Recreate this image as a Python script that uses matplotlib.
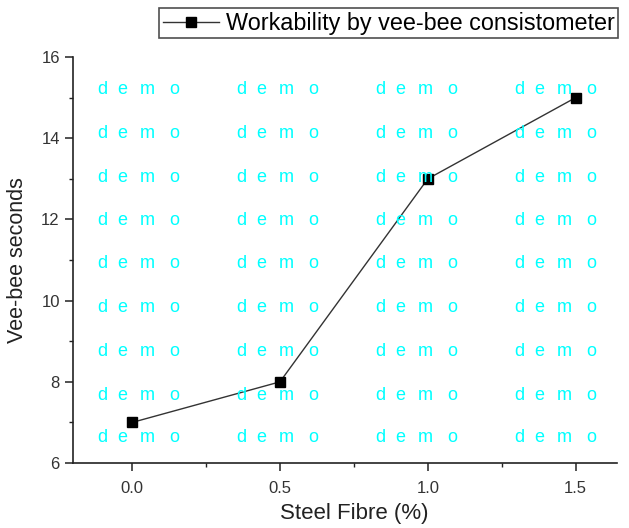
import matplotlib.pyplot as plt
from matplotlib.ticker import MultipleLocator

# Vee-bee workability vs steel fibre content
fibre = [0.0, 0.5, 1.0, 1.5]
vee_bee = [7, 8, 13, 15]

plt.rcParams['font.family'] = ['Liberation Sans', 'DejaVu Sans']

fig = plt.figure(figsize=(6.29, 5.28), dpi=100)
ax = fig.add_axes([0.116, 0.123, 0.865, 0.769])

ax.plot(fibre, vee_bee, color='#333333', lw=1.0, marker='s', markersize=7,
        markerfacecolor='black', markeredgecolor='black',
        label='Workability by vee-bee consistometer', zorder=3)

ax.set_xlim(-0.2, 1.64)
ax.set_ylim(6, 16)
ax.xaxis.set_minor_locator(MultipleLocator(0.25))
ax.yaxis.set_major_locator(MultipleLocator(2))
ax.yaxis.set_minor_locator(MultipleLocator(1))
ax.set_xticks([0.0, 0.5, 1.0, 1.5])
ax.set_xticklabels(['0.0', '0.5', '1.0', '1.5'])

for s in ['top', 'right']:
    ax.spines[s].set_visible(False)
for s in ['left', 'bottom']:
    ax.spines[s].set_linewidth(1.2)
    ax.spines[s].set_color('#222222')

ax.tick_params(which='major', direction='out', length=6, width=1.1,
               labelsize=12, colors='#222222', labelcolor='#333333')
ax.tick_params(which='minor', direction='out', length=3, width=1.0,
               colors='#222222')
ax.tick_params(axis='x', pad=7)

# axis titles placed in figure pixels
fig.text(354 / 629, 1 - 513 / 528, 'Steel Fibre (%)', fontsize=16,
         color='#222222', ha='center', va='center')
fig.text(18 / 629, 1 - 260 / 528, 'Vee-bee seconds', fontsize=15.5,
         color='#222222', ha='center', va='center', rotation=90)

leg = fig.legend(loc='upper right', bbox_to_anchor=(0.983, 0.984),
                 fontsize=16.8, frameon=True, fancybox=False,
                 handlelength=2.4, handletextpad=0.3, borderpad=0.15,
                 borderaxespad=0.0)
leg.get_frame().set_edgecolor('#222222')
leg.get_frame().set_linewidth(1.2)

# watermark grid, letters spread out one by one
cols = [97, 236, 375, 514]
rows = [89, 133, 178, 220, 264, 307, 351, 395, 438]
letters = ['d', 'e', 'm', 'o']
offsets = [5, 25.5, 50.5, 77]
for cy in rows:
    for cx in cols:
        for ch, dx in zip(letters, offsets):
            fig.text((cx + dx) / 629, 1 - cy / 528, ch, color='#00ffff',
                     fontsize=13, ha='center', va='center', zorder=1)

fig.savefig('out.png', dpi=100)
